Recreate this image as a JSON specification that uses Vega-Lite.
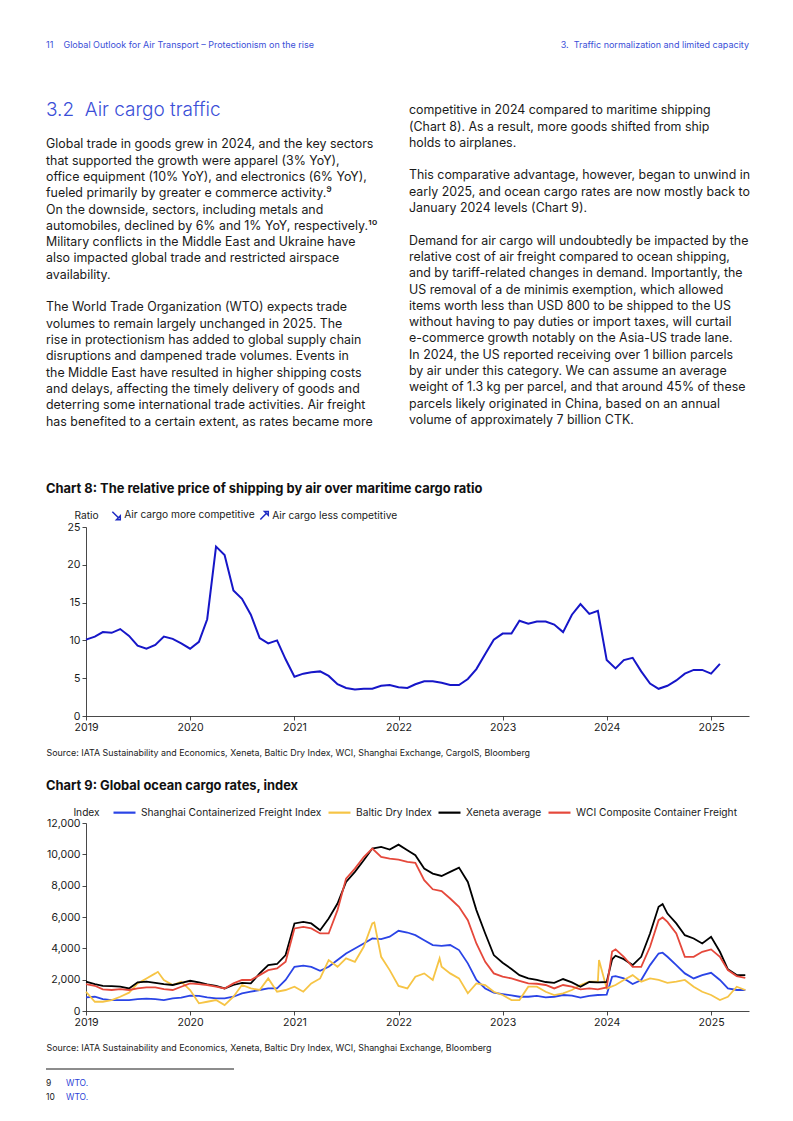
{
  "$schema": "https://vega.github.io/schema/vega-lite/v6.json",
  "padding": {"left": 45, "top": 41, "right": 5, "bottom": 5},
  "bounds": "flush",
  "spacing": 107,
  "config": {
    "font": "Inter",
    "view": {"stroke": null},
    "axis": {"labelFont": "Inter", "labelFontSize": 10.6, "labelColor": "#1a1a1a", "domainColor": "#1a1a1a", "tickColor": "#1a1a1a", "domainWidth": 0.8, "tickWidth": 0.8, "tickSize": 4, "labelPadding": 2, "grid": false, "titleFont": "Inter", "titleFontWeight": "normal", "titleColor": "#1a1a1a"},
    "legend": {"labelFont": "Inter", "labelFontSize": 10.2, "labelColor": "#1a1a1a", "padding": 0},
    "title": {"font": "Inter", "fontSize": 12.9, "fontWeight": "bold", "color": "#111111", "anchor": "start", "frame": "group"}
  },
  "datasets": {
    "text": [
      {"kind": "head", "col": "left", "row": -4, "text": "11\u00a0\u00a0\u00a0\u00a0Global Outlook for Air Transport – Protectionism on the rise"},
      {"kind": "headR", "col": "right", "row": -4, "text": "3.\u00a0\u00a0Traffic normalization and limited capacity"},
      {"kind": "section", "col": "left", "row": 0, "text": "3.2\u00a0\u00a0Air cargo traffic"},
      {"kind": "body", "col": "left", "row": 2, "text": "Global trade in goods grew in 2024, and the key sectors"},
      {"kind": "body", "col": "left", "row": 3, "text": "that supported the growth were apparel (3% YoY),"},
      {"kind": "body", "col": "left", "row": 4, "text": "office equipment (10% YoY), and electronics (6% YoY),"},
      {"kind": "body", "col": "left", "row": 5, "text": "fueled primarily by greater e commerce activity.⁹"},
      {"kind": "body", "col": "left", "row": 6, "text": "On the downside, sectors, including metals and"},
      {"kind": "body", "col": "left", "row": 7, "text": "automobiles, declined by 6% and 1% YoY, respectively.¹⁰"},
      {"kind": "body", "col": "left", "row": 8, "text": "Military conflicts in the Middle East and Ukraine have"},
      {"kind": "body", "col": "left", "row": 9, "text": "also impacted global trade and restricted airspace"},
      {"kind": "body", "col": "left", "row": 10, "text": "availability."},
      {"kind": "body", "col": "left", "row": 12, "text": "The World Trade Organization (WTO) expects trade"},
      {"kind": "body", "col": "left", "row": 13, "text": "volumes to remain largely unchanged in 2025. The"},
      {"kind": "body", "col": "left", "row": 14, "text": "rise in protectionism has added to global supply chain"},
      {"kind": "body", "col": "left", "row": 15, "text": "disruptions and dampened trade volumes. Events in"},
      {"kind": "body", "col": "left", "row": 16, "text": "the Middle East have resulted in higher shipping costs"},
      {"kind": "body", "col": "left", "row": 17, "text": "and delays, affecting the timely delivery of goods and"},
      {"kind": "body", "col": "left", "row": 18, "text": "deterring some international trade activities. Air freight"},
      {"kind": "body", "col": "left", "row": 19, "text": "has benefited to a certain extent, as rates became more"},
      {"kind": "body", "col": "right", "row": 0, "text": "competitive in 2024 compared to maritime shipping"},
      {"kind": "body", "col": "right", "row": 1, "text": "(Chart 8). As a result, more goods shifted from ship"},
      {"kind": "body", "col": "right", "row": 2, "text": "holds to airplanes."},
      {"kind": "body", "col": "right", "row": 4, "text": "This comparative advantage, however, began to unwind in"},
      {"kind": "body", "col": "right", "row": 5, "text": "early 2025, and ocean cargo rates are now mostly back to"},
      {"kind": "body", "col": "right", "row": 6, "text": "January 2024 levels (Chart 9)."},
      {"kind": "body", "col": "right", "row": 8, "text": "Demand for air cargo will undoubtedly be impacted by the"},
      {"kind": "body", "col": "right", "row": 9, "text": "relative cost of air freight compared to ocean shipping,"},
      {"kind": "body", "col": "right", "row": 10, "text": "and by tariff-related changes in demand. Importantly, the"},
      {"kind": "body", "col": "right", "row": 11, "text": "US removal of a de minimis exemption, which allowed"},
      {"kind": "body", "col": "right", "row": 12, "text": "items worth less than USD 800 to be shipped to the US"},
      {"kind": "body", "col": "right", "row": 13, "text": "without having to pay duties or import taxes, will curtail"},
      {"kind": "body", "col": "right", "row": 14, "text": "e-commerce growth notably on the Asia-US trade lane."},
      {"kind": "body", "col": "right", "row": 15, "text": "In 2024, the US reported receiving over 1 billion parcels"},
      {"kind": "body", "col": "right", "row": 16, "text": "by air under this category. We can assume an average"},
      {"kind": "body", "col": "right", "row": 17, "text": "weight of 1.3 kg per parcel, and that around 45% of these"},
      {"kind": "body", "col": "right", "row": 18, "text": "parcels likely originated in China, based on an annual"},
      {"kind": "body", "col": "right", "row": 19, "text": "volume of approximately 7 billion CTK."}
    ],
    "c8": [
      {"date": "2019-01-01", "ratio": 10.1}, {"date": "2019-02-01", "ratio": 10.5}, {"date": "2019-03-01", "ratio": 11.1}, {"date": "2019-04-01", "ratio": 11.0}, {"date": "2019-05-01", "ratio": 11.5}, {"date": "2019-06-01", "ratio": 10.6}, {"date": "2019-07-01", "ratio": 9.3}, {"date": "2019-08-01", "ratio": 8.9}, {"date": "2019-09-01", "ratio": 9.4}, {"date": "2019-10-01", "ratio": 10.5}, {"date": "2019-11-01", "ratio": 10.2}, {"date": "2019-12-01", "ratio": 9.6},
      {"date": "2020-01-01", "ratio": 8.9}, {"date": "2020-02-01", "ratio": 9.8}, {"date": "2020-03-01", "ratio": 12.8}, {"date": "2020-04-01", "ratio": 22.4}, {"date": "2020-05-01", "ratio": 21.3}, {"date": "2020-06-01", "ratio": 16.6}, {"date": "2020-07-01", "ratio": 15.5}, {"date": "2020-08-01", "ratio": 13.4}, {"date": "2020-09-01", "ratio": 10.3}, {"date": "2020-10-01", "ratio": 9.6}, {"date": "2020-11-01", "ratio": 10.0}, {"date": "2020-12-01", "ratio": 7.5},
      {"date": "2021-01-01", "ratio": 5.2}, {"date": "2021-02-01", "ratio": 5.6}, {"date": "2021-03-01", "ratio": 5.8}, {"date": "2021-04-01", "ratio": 5.9}, {"date": "2021-05-01", "ratio": 5.3}, {"date": "2021-06-01", "ratio": 4.2}, {"date": "2021-07-01", "ratio": 3.7}, {"date": "2021-08-01", "ratio": 3.5}, {"date": "2021-09-01", "ratio": 3.6}, {"date": "2021-10-01", "ratio": 3.6}, {"date": "2021-11-01", "ratio": 4.0}, {"date": "2021-12-01", "ratio": 4.1},
      {"date": "2022-01-01", "ratio": 3.8}, {"date": "2022-02-01", "ratio": 3.7}, {"date": "2022-03-01", "ratio": 4.2}, {"date": "2022-04-01", "ratio": 4.6}, {"date": "2022-05-01", "ratio": 4.6}, {"date": "2022-06-01", "ratio": 4.4}, {"date": "2022-07-01", "ratio": 4.1}, {"date": "2022-08-01", "ratio": 4.1}, {"date": "2022-09-01", "ratio": 4.9}, {"date": "2022-10-01", "ratio": 6.2}, {"date": "2022-11-01", "ratio": 8.2}, {"date": "2022-12-01", "ratio": 10.1},
      {"date": "2023-01-01", "ratio": 10.9}, {"date": "2023-02-01", "ratio": 10.9}, {"date": "2023-03-01", "ratio": 12.6}, {"date": "2023-04-01", "ratio": 12.2}, {"date": "2023-05-01", "ratio": 12.5}, {"date": "2023-06-01", "ratio": 12.5}, {"date": "2023-07-01", "ratio": 12.1}, {"date": "2023-08-01", "ratio": 11.1}, {"date": "2023-09-01", "ratio": 13.4}, {"date": "2023-10-01", "ratio": 14.8}, {"date": "2023-11-01", "ratio": 13.5}, {"date": "2023-12-01", "ratio": 13.9},
      {"date": "2024-01-01", "ratio": 7.4}, {"date": "2024-02-01", "ratio": 6.3}, {"date": "2024-03-01", "ratio": 7.4}, {"date": "2024-04-01", "ratio": 7.7}, {"date": "2024-05-01", "ratio": 5.9}, {"date": "2024-06-01", "ratio": 4.3}, {"date": "2024-07-01", "ratio": 3.6}, {"date": "2024-08-01", "ratio": 4.0}, {"date": "2024-09-01", "ratio": 4.7}, {"date": "2024-10-01", "ratio": 5.6}, {"date": "2024-11-01", "ratio": 6.1}, {"date": "2024-12-01", "ratio": 6.1},
      {"date": "2025-01-01", "ratio": 5.6}, {"date": "2025-02-01", "ratio": 6.9}
    ],
    "c9": [
      {"date": "2019-01-01", "s": 870, "b": 1230, "x": 1870, "w": 1720},
      {"date": "2019-02-01", "s": 910, "b": 590, "x": 1720, "w": 1610},
      {"date": "2019-03-01", "s": 760, "b": 590, "x": 1610, "w": 1380},
      {"date": "2019-04-01", "s": 700, "b": 700, "x": 1590, "w": 1340},
      {"date": "2019-05-01", "s": 700, "b": 910, "x": 1550, "w": 1400},
      {"date": "2019-06-01", "s": 700, "b": 1170, "x": 1440, "w": 1340},
      {"date": "2019-07-01", "s": 760, "b": 1760, "x": 1830, "w": 1440},
      {"date": "2019-08-01", "s": 790, "b": 2080, "x": 1870, "w": 1510},
      {"date": "2019-09-01", "s": 760, "b": 2400, "x": 1800, "w": 1510},
      {"date": "2019-09-10", "b": 2500},
      {"date": "2019-10-01", "s": 700, "b": 1980, "x": 1720, "w": 1400},
      {"date": "2019-11-01", "s": 810, "b": 1660, "x": 1660, "w": 1340},
      {"date": "2019-12-01", "s": 850, "b": 1870, "x": 1800, "w": 1550},
      {"date": "2020-01-01", "s": 980, "b": 1340, "x": 1930, "w": 1760},
      {"date": "2020-02-01", "s": 960, "b": 490, "x": 1830, "w": 1720},
      {"date": "2020-03-01", "s": 870, "b": 590, "x": 1700, "w": 1660},
      {"date": "2020-04-01", "s": 810, "b": 700, "x": 1610, "w": 1550},
      {"date": "2020-05-01", "s": 810, "b": 380, "x": 1440, "w": 1440},
      {"date": "2020-06-01", "s": 910, "b": 910, "x": 1660, "w": 1760},
      {"date": "2020-07-01", "s": 1130, "b": 1660, "x": 1800, "w": 1980},
      {"date": "2020-08-01", "s": 1230, "b": 1440, "x": 1760, "w": 1980},
      {"date": "2020-09-01", "s": 1340, "b": 1340, "x": 2400, "w": 2290},
      {"date": "2020-10-01", "s": 1440, "b": 2080, "x": 2930, "w": 2610},
      {"date": "2020-11-01", "s": 1440, "b": 1230, "x": 3000, "w": 2720},
      {"date": "2020-12-01", "s": 1980, "b": 1340, "x": 3570, "w": 3140},
      {"date": "2021-01-01", "s": 2820, "b": 1550, "x": 5590, "w": 5270},
      {"date": "2021-02-01", "s": 2890, "b": 1230, "x": 5690, "w": 5370},
      {"date": "2021-03-01", "s": 2820, "b": 1760, "x": 5590, "w": 5270},
      {"date": "2021-04-01", "s": 2570, "b": 2080, "x": 5160, "w": 4950},
      {"date": "2021-05-01", "s": 2820, "b": 3250, "x": 5900, "w": 4950},
      {"date": "2021-06-01", "s": 3250, "b": 2820, "x": 6860, "w": 6440},
      {"date": "2021-07-01", "s": 3670, "b": 3360, "x": 8240, "w": 8450},
      {"date": "2021-08-01", "s": 3990, "b": 3140, "x": 8880, "w": 9090},
      {"date": "2021-09-01", "s": 4310, "b": 4100, "x": 9620, "w": 9830},
      {"date": "2021-10-01", "s": 4630, "b": 5590, "x": 10370, "w": 10370},
      {"date": "2021-10-08", "b": 5650},
      {"date": "2021-11-01", "s": 4590, "b": 3460, "x": 10470, "w": 9830},
      {"date": "2021-12-01", "s": 4740, "b": 2610, "x": 10300, "w": 9730},
      {"date": "2022-01-01", "s": 5120, "b": 1600, "x": 10620, "w": 9660},
      {"date": "2022-02-01", "s": 5010, "b": 1440, "x": 10260, "w": 9520},
      {"date": "2022-03-01", "s": 4840, "b": 2190, "x": 9940, "w": 9450},
      {"date": "2022-04-01", "s": 4520, "b": 2400, "x": 9090, "w": 8350},
      {"date": "2022-05-01", "s": 4210, "b": 1980, "x": 8770, "w": 7770},
      {"date": "2022-05-25", "b": 3360},
      {"date": "2022-06-01", "s": 4160, "b": 2820, "x": 8620, "w": 7650},
      {"date": "2022-07-01", "s": 4210, "b": 2400, "x": 8880, "w": 7180},
      {"date": "2022-08-01", "s": 3890, "b": 2080, "x": 9150, "w": 6650},
      {"date": "2022-09-01", "s": 3040, "b": 1130, "x": 8240, "w": 5800},
      {"date": "2022-10-01", "s": 1980, "b": 1760, "x": 6440, "w": 4310},
      {"date": "2022-11-01", "s": 1440, "b": 1660, "x": 4950, "w": 3140},
      {"date": "2022-12-01", "s": 1170, "b": 1230, "x": 3570, "w": 2400},
      {"date": "2023-01-01", "s": 1080, "b": 1020, "x": 3080, "w": 2190},
      {"date": "2023-02-01", "s": 1000, "b": 700, "x": 2680, "w": 2080},
      {"date": "2023-03-01", "s": 910, "b": 700, "x": 2290, "w": 1930},
      {"date": "2023-04-01", "s": 910, "b": 1550, "x": 2080, "w": 1760},
      {"date": "2023-05-01", "s": 960, "b": 1550, "x": 1980, "w": 1740},
      {"date": "2023-06-01", "s": 870, "b": 1230, "x": 1850, "w": 1660},
      {"date": "2023-07-01", "s": 910, "b": 1020, "x": 1800, "w": 1440},
      {"date": "2023-08-01", "s": 1020, "b": 1130, "x": 2040, "w": 1660},
      {"date": "2023-09-01", "s": 980, "b": 1340, "x": 1830, "w": 1550},
      {"date": "2023-10-01", "s": 850, "b": 1660, "x": 1550, "w": 1380},
      {"date": "2023-11-01", "s": 960, "b": 1870, "x": 1850, "w": 1440},
      {"date": "2023-12-01", "s": 1020, "b": 1870, "x": 1830, "w": 1380},
      {"date": "2023-12-05", "b": 3250},
      {"date": "2024-01-01", "s": 1050, "b": 1440, "x": 1850, "w": 1500},
      {"date": "2024-01-20", "s": 2190, "x": 3300, "w": 3800},
      {"date": "2024-02-01", "s": 2230, "b": 1660, "x": 3530, "w": 3930},
      {"date": "2024-03-01", "s": 2080, "b": 1980, "x": 3310, "w": 3460},
      {"date": "2024-04-01", "s": 1720, "b": 2290, "x": 2930, "w": 2820},
      {"date": "2024-05-01", "s": 1980, "b": 1870, "x": 3460, "w": 2820},
      {"date": "2024-06-01", "s": 2930, "b": 2080, "x": 4950, "w": 4100},
      {"date": "2024-07-01", "s": 3670, "b": 1980, "x": 6650, "w": 5800},
      {"date": "2024-07-15", "s": 3720, "x": 6820, "w": 5970},
      {"date": "2024-08-01", "s": 3460, "b": 1800, "x": 6220, "w": 5690},
      {"date": "2024-09-01", "s": 2930, "b": 1870, "x": 5590, "w": 4950},
      {"date": "2024-10-01", "s": 2400, "b": 1980, "x": 4840, "w": 3460},
      {"date": "2024-11-01", "s": 2080, "b": 1550, "x": 4630, "w": 3460},
      {"date": "2024-12-01", "s": 2290, "b": 1230, "x": 4310, "w": 3780},
      {"date": "2025-01-01", "s": 2440, "b": 1020, "x": 4740, "w": 3930},
      {"date": "2025-02-01", "s": 1980, "b": 700, "x": 3780, "w": 3460},
      {"date": "2025-03-01", "s": 1440, "b": 910, "x": 2660, "w": 2610},
      {"date": "2025-04-01", "s": 1340, "b": 1550, "x": 2290, "w": 2230},
      {"date": "2025-05-01", "s": 1340, "b": 1340, "x": 2290, "w": 2120}
    ],
    "notes": [
      {"n": "9", "ref": "WTO."},
      {"n": "10", "ref": "WTO."}
    ]
  },
  "vconcat": [
    {
      "width": 663,
      "height": 375,
      "data": {"name": "text"},
      "encoding": {
        "x": {"field": "col", "type": "nominal", "scale": {"type": "point", "domain": ["left", "right"], "range": [-40, 323], "padding": 0}, "axis": null},
        "y": {"field": "row", "type": "quantitative", "scale": {"domain": [-4, 19], "reverse": true, "nice": false, "zero": false}, "axis": null},
        "text": {"field": "text"}
      },
      "layer": [
        {"transform": [{"filter": "datum.kind == 'body' && datum.col == 'left'"}], "mark": {"type": "text", "align": "left", "baseline": "middle", "dy": 1.5, "font": "Inter", "fontSize": 12.4, "color": "#1a1a1a"}},
        {"transform": [{"filter": "datum.kind == 'body' && datum.col == 'right'"}], "mark": {"type": "text", "align": "left", "baseline": "middle", "font": "Inter", "fontSize": 12.4, "color": "#1a1a1a"}},
        {"transform": [{"filter": "datum.kind == 'section'"}], "mark": {"type": "text", "align": "left", "baseline": "middle", "font": "Inter", "fontSize": 19, "fontWeight": 300, "color": "#3b4fd8"}},
        {"transform": [{"filter": "datum.kind == 'head'"}], "mark": {"type": "text", "align": "left", "baseline": "middle", "font": "Inter", "fontSize": 9, "color": "#3b4fd8"}},
        {"transform": [{"filter": "datum.kind == 'headR'"}], "mark": {"type": "text", "align": "right", "baseline": "middle", "dx": 340, "font": "Inter", "fontSize": 9, "color": "#3b4fd8"}}
      ]
    },
    {
      "width": 663,
      "height": 189,
      "title": {"text": "Chart 8: The relative price of shipping by air over maritime cargo ratio", "anchor": "start", "frame": "group", "dx": -40, "offset": 14},
      "layer": [
        {
          "data": {"name": "c8"},
          "mark": {"type": "line", "color": "#1616c8", "strokeWidth": 2},
          "encoding": {
            "x": {"field": "date", "type": "temporal", "scale": {"domain": [{"year": 2019, "month": 1, "date": 1}, {"year": 2025, "month": 5, "date": 14}]},
              "axis": {"format": "%Y", "tickCount": {"interval": "year", "step": 1}, "labelFlush": false, "title": "Source: IATA Sustainability and Economics, Xeneta, Baltic Dry Index, WCI, Shanghai Exchange, CargoIS, Bloomberg", "titleFontSize": 8.9, "titleX": -40, "titleY": 36, "titleAlign": "left", "titleAnchor": "start", "titleBaseline": "middle"}},
            "y": {"field": "ratio", "type": "quantitative", "scale": {"domain": [0, 25], "nice": false},
              "axis": {"values": [0, 5, 10, 15, 20, 25], "title": "Ratio", "titleAngle": 0, "titleX": 0, "titleY": -12, "titleAlign": "center", "titleBaseline": "middle", "titleFontSize": 10.2}}
          }
        },
        {
          "data": {"values": [{"k": "Air cargo more competitive"}, {"k": "Air cargo less competitive"}]},
          "mark": {"type": "point", "opacity": 0, "filled": false, "color": "#1f2bc4"},
          "encoding": {
            "shape": {"field": "k", "type": "nominal",
              "scale": {"domain": ["Air cargo more competitive", "Air cargo less competitive"], "range": ["M-0.9,-0.9L0.45,0.45M1,1L1,0.1L0.1,1Z", "M-0.9,0.9L0.45,-0.45M1,-1L1,-0.1L0.1,-1Z"]},
              "legend": {"title": null, "orient": "none", "legendX": 25, "legendY": 465, "direction": "horizontal", "symbolSize": 70, "symbolFillColor": "#1f2bc4", "symbolStrokeColor": "#1f2bc4", "symbolStrokeWidth": 1.5, "symbolOpacity": 1, "labelOffset": 3, "columnPadding": 2}}
          }
        }
      ]
    },
    {
      "bounds": "flush",
      "spacing": 58,
      "vconcat": [
        {
          "width": 663,
          "height": 188,
          "title": {"text": "Chart 9: Global ocean cargo rates, index", "anchor": "start", "frame": "group", "dx": -40, "offset": 14},
          "data": {"name": "c9"},
          "transform": [{"fold": ["s", "b", "x", "w"], "as": ["series", "value"]}, {"filter": "isValid(datum.value)"}],
          "mark": {"type": "line", "strokeWidth": 1.8},
          "encoding": {
            "x": {"field": "date", "type": "temporal", "scale": {"domain": [{"year": 2019, "month": 1, "date": 1}, {"year": 2025, "month": 5, "date": 14}]},
              "axis": {"format": "%Y", "tickCount": {"interval": "year", "step": 1}, "labelFlush": false, "title": "Source: IATA Sustainability and Economics, Xeneta, Baltic Dry Index, WCI, Shanghai Exchange, Bloomberg", "titleFontSize": 8.9, "titleX": -40, "titleY": 36, "titleAlign": "left", "titleAnchor": "start", "titleBaseline": "middle"}},
            "y": {"field": "value", "type": "quantitative", "scale": {"domain": [0, 12000], "nice": false},
              "axis": {"values": [0, 2000, 4000, 6000, 8000, 10000, 12000], "format": ",.0f", "title": "Index", "titleAngle": 0, "titleX": 0, "titleY": -11, "titleAlign": "center", "titleBaseline": "middle", "titleFontSize": 10.2}},
            "color": {"field": "series", "type": "nominal",
              "scale": {"domain": ["s", "b", "x", "w"], "range": ["#2a44e6", "#f6c445", "#000000", "#e5483b"]},
              "legend": {"title": null, "orient": "none", "legendX": 26, "legendY": 755, "direction": "horizontal", "symbolType": "stroke", "symbolSize": 484, "symbolStrokeWidth": 2.2, "labelOffset": 4, "columnPadding": 2, "labelLimit": 300,
                "labelExpr": "datum.label == 's' ? 'Shanghai Containerized Freight Index' : datum.label == 'b' ? 'Baltic Dry Index' : datum.label == 'x' ? 'Xeneta average' : 'WCI Composite Container Freight'"}}
          }
        },
        {
          "width": 663,
          "height": 28,
          "layer": [
            {
              "data": {"values": [{"line": "sep"}]},
              "mark": {"type": "rule", "color": "#1a1a1a", "strokeWidth": 1},
              "encoding": {
                "x": {"datum": 0, "type": "quantitative", "scale": {"domain": [0, 1], "range": [-40, 148]}, "axis": null},
                "x2": {"datum": 1},
                "y": {"field": "line", "type": "nominal", "scale": {"type": "point", "domain": ["sep", "9", "10"], "padding": 0}, "axis": null}
              }
            },
            {
              "data": {"name": "notes"},
              "mark": {"type": "text", "align": "left", "baseline": "middle", "font": "Inter", "fontSize": 8.5, "color": "#1a1a1a"},
              "encoding": {"x": {"datum": 0, "type": "quantitative"}, "y": {"field": "n", "type": "nominal"}, "text": {"field": "n"}}
            },
            {
              "data": {"name": "notes"},
              "mark": {"type": "text", "align": "left", "baseline": "middle", "dx": 20, "font": "Inter", "fontSize": 8.5, "color": "#2b3fd6"},
              "encoding": {"x": {"datum": 0, "type": "quantitative"}, "y": {"field": "n", "type": "nominal"}, "text": {"field": "ref"}}
            }
          ]
        }
      ]
    }
  ]
}
